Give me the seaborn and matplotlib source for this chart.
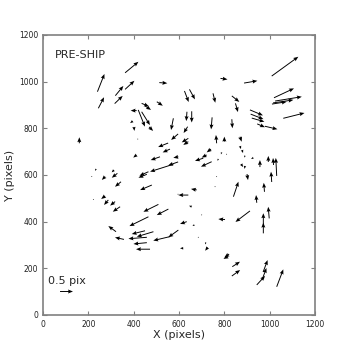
import matplotlib
matplotlib.use("Agg")
import matplotlib.pyplot as plt
import seaborn as sns
import numpy as np

# Star positions (detector pixels) and distortion offsets (pix)
x_pos = [362, 240, 244, 319, 362, 316, 513, 435, 450, 502, 413, 420, 435, 468, 396, 401, 575, 160,
         1009, 783, 887, 1019, 1010, 1015, 1024, 1060, 913, 921, 945, 979, 916, 624, 646, 750, 833, 849,
         635, 656, 746, 833, 638,
         418, 552, 596, 560, 516, 597, 413, 575, 596, 465, 458, 480, 234, 215, 274, 313, 328, 344, 222,
         274, 288, 318, 340, 509, 553, 597,
         766, 800, 869, 641, 641, 741, 722, 707, 744, 788, 810, 869, 878, 891, 928, 773, 874, 891, 900,
         957, 994, 1031, 1017, 1009, 977, 943, 998, 972, 972, 840, 766, 759, 678, 641, 656, 913, 803,
         634, 668, 700, 685, 619, 718, 727, 821, 816, 835, 833, 971, 966, 943, 1031,
         465, 322, 357, 450, 487, 458, 458, 472, 560, 597]
y_pos = [1038, 957, 886, 940, 967, 906, 996, 907, 896, 914, 876, 879, 871, 806, 831, 806, 843, 736,
         1024, 1014, 994, 931, 904, 909, 917, 843, 879, 844, 819, 809, 861, 960, 967, 950, 939, 907,
         871, 873, 847, 839, 807,
         754, 737, 776, 711, 678, 678, 686, 646, 656, 614, 603, 557, 626, 594, 593, 621, 607, 571, 495,
         510, 493, 486, 464, 474, 454, 519,
         736, 743, 764, 757, 743, 711, 686, 672, 657, 697, 689, 724, 707, 683, 674, 669, 647, 639, 604,
         634, 656, 596, 643, 570, 528, 481, 414, 386, 350, 507, 593, 550, 536, 514, 464, 446, 409,
         400, 386, 429, 333, 286, 311, 290, 261, 251, 207, 167, 184, 150, 129, 121,
         421, 357, 324, 361, 357, 333, 310, 282, 336, 364]
dx_pix = [0.515, 0.271, 0.221, 0.31, 0.36, 0.31, 0.31, 0.283, 0.232, 0.232, -0.232, 0.259, 0.321, 0.155,
          -0.104, 0.019, -0.089, 0.0,
          1.03, 0.271, 0.515, 0.774, 0.569, 0.786, 1.033, 0.82, 0.503, 0.488, 0.298, 0.484, 0.495,
          0.163, 0.213, 0.089, 0.29, 0.097, -0.027, 0.0, -0.039, 0.023, -0.155,
          -0.01, -0.387, -0.271, -0.283, -0.36, -0.194, -0.132, -0.902, -0.387, -0.348, -0.325, -0.453,
          -0.039, -0.015, -0.128, -0.089, -0.217, -0.232, -0.01, -0.155, -0.166, -0.194, -0.283, -0.58,
          -0.449, -0.03,
          -0.027, 0.0, 0.066, -0.255, -0.194, -0.166, -0.194, -0.321, -0.414, -0.027, -0.01, 0.039,
          0.039, -0.027, -0.089, -0.023, 0.077, -0.019, 0.039, 0.0, 0.0, -0.035, -0.019, -0.027, -0.027,
          -0.027, -0.039, 0.0, 0.0, 0.194, 0.01, 0.01, -0.221, -0.387, -0.104, -0.561, -0.259, -0.259,
          -0.077, 0.01, 0.01, -0.128, -0.027, -0.104, -0.182, -0.174, 0.298, 0.321, 0.174, 0.174, 0.321,
          0.255,
          -0.735, -0.298, -0.348, -0.515, -0.642, -0.712, -0.519, -0.542, -0.646, -0.387]
dy_pix = [0.414, 0.666, 0.414, 0.365, 0.323, 0.29, -0.023, -0.113, -0.15, -0.15, 0.0, -0.628, -0.5,
          -0.15, -0.075, -0.15, -0.44, 0.226,
          0.726, -0.038, 0.086, 0.353, 0.086, 0.113, 0.162, 0.2, -0.207, -0.139, -0.124, -0.113, -0.188,
          -0.414, -0.376, -0.353, -0.226, -0.327, -0.35, -0.421, -0.451, -0.338, -0.237,
          -0.02, -0.15, -0.226, -0.124, -0.124, -0.038, -0.1, -0.278, -0.132, -0.15, -0.128, -0.188,
          -0.075, -0.026, -0.124, -0.086, -0.165, -0.188, -0.03, -0.113, -0.188, -0.15, -0.188, -0.278,
          -0.226, -0.038,
          0.312, 0.188, -0.188, -0.15, -0.124, -0.124, -0.1, -0.1, -0.188, -0.075, -0.02, -0.113, -0.113,
          -0.075, -0.049, -0.075, -0.113, -0.113, -0.226, 0.263, 0.226, 0.677, 0.263, 0.387, 0.338, 0.29,
          0.436, 0.44, 0.4, 0.564, 0.02, 0.02, 0.038, 0.0, 0.038, -0.414, 0.02, -0.086, -0.038, 0.02,
          0.02, 0.0, -0.075, -0.128, -0.124, -0.094, 0.188, 0.226, 0.451, 0.451, 0.338, 0.654,
          -0.35, 0.214, 0.075, -0.124, -0.188, -0.053, -0.049, 0.0, -0.15, -0.274]

label_text = "PRE-SHIP"
key_value = 0.5
key_label = "0.5 pix"

sns.set_style("ticks")
plt.rcParams.update({
    "font.family": ["DejaVu Sans"],
    "axes.edgecolor": "#808080",
    "axes.linewidth": 1.2,
    "xtick.direction": "in",
    "ytick.direction": "in",
    "xtick.top": True,
    "ytick.right": True,
    "xtick.color": "#808080",
    "ytick.color": "#808080",
    "xtick.labelcolor": "#222222",
    "ytick.labelcolor": "#222222",
    "xtick.major.size": 3,
    "ytick.major.size": 3,
    "xtick.labelsize": 5.5,
    "ytick.labelsize": 5.5,
})

fig = plt.figure(figsize=(3.5, 3.5), dpi=100)
ax = fig.add_axes([0.123, 0.1, 0.777, 0.8])

q = ax.quiver(x_pos, y_pos, dx_pix, dy_pix, angles="xy", scale_units="xy",
              scale=0.5 / 57.0, color="black", width=0.0035,
              headwidth=4.2, headlength=5.2, headaxislength=4.6)
ax.quiverkey(q, 0.086, 0.086, key_value, key_label, labelpos="N",
             coordinates="axes", fontproperties={"size": 8}, labelsep=0.05)

ax.text(0.044, 0.93, label_text, transform=ax.transAxes, fontsize=8,
        ha="left", va="center")

ax.set_xlim(0, 1200)
ax.set_ylim(0, 1200)
ax.set_xticks(np.arange(0, 1201, 200))
ax.set_yticks(np.arange(0, 1201, 200))
ax.set_xlabel("X (pixels)", fontsize=8, labelpad=1)
ax.set_ylabel("Y (pixels)", fontsize=8, labelpad=3)

fig.savefig("out.png", dpi=100)
